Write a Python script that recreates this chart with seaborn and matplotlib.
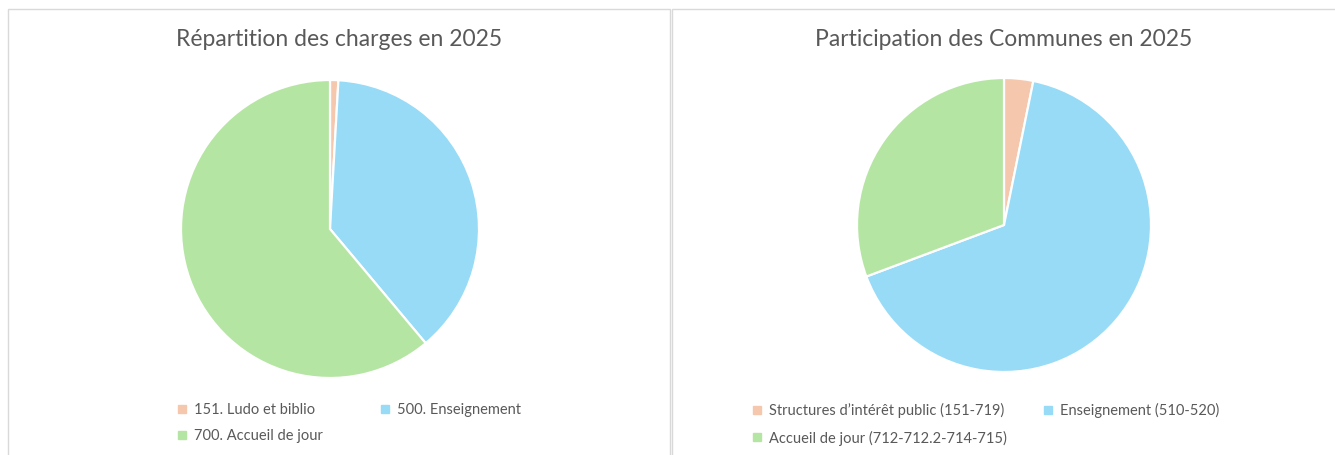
import matplotlib.pyplot as plt
import seaborn as sns
from matplotlib.lines import Line2D
from matplotlib.patches import Rectangle

# data (shares in %)
charges_labels = ['151. Ludo et biblio', '500. Enseignement', '700. Accueil de jour']
charges_values = [0.9, 38.0, 61.1]

communes_labels = ['Structures d\u2019intérêt public (151-719)', 'Enseignement (510-520)',
                   'Accueil de jour (712-712.2-714-715)']
communes_values = [3.2, 66.1, 30.7]

titles = ['Répartition des charges en 2025', 'Participation des Communes en 2025']

sns.set_theme(style='white')
plt.rcParams['font.family'] = ['Lato', 'DejaVu Sans']
colors = sns.color_palette(['#F5C7AD', '#97DBF7', '#B5E5A3'])
text_color = '#595959'

fig = plt.figure(figsize=(13.35, 4.55), dpi=100)
W, H = 1335, 455

# panel frames
for x0, x1 in [(8, 670), (672, 1345)]:
    fig.patches.append(Rectangle((x0 / W, -0.05), (x1 - x0) / W, (H - 9) / H + 0.05,
                                 transform=fig.transFigure, fill=False,
                                 edgecolor='#D9D9D9', linewidth=1.0))


def draw_pie(box, values, labels, title, title_x, legend_x, colspacing):
    ax = fig.add_axes(box)
    ax.pie(values, colors=colors, startangle=90, counterclock=False,
           wedgeprops=dict(edgecolor='white', linewidth=1.6))
    ax.set_xlim(-1.0, 1.0)
    ax.set_ylim(-1.0, 1.0)
    ax.set_aspect('equal')
    fig.text(title_x / W, 1 - 40 / H, title, ha='center', va='center',
             fontsize=16.5, color=text_color)
    handles = [Line2D([], [], marker='s', linestyle='none', markersize=6,
                      markerfacecolor=c, markeredgecolor=c) for c in colors]
    # legend is filled column by column; reorder so it reads row by row
    order = [0, 2, 1]
    fig.legend([handles[i] for i in order], [labels[i] for i in order],
               ncol=2, frameon=False, loc='upper left',
               bbox_to_anchor=(legend_x / W, 1 - 403 / H),
               fontsize=10.5, labelcolor=text_color, handlelength=0.6,
               handletextpad=0.5, columnspacing=colspacing,
               labelspacing=0.85, borderpad=0, borderaxespad=0)
    return ax


draw_pie([181 / W, 77 / H, 298 / W, 298 / H], charges_values, charges_labels,
         titles[0], 339, 178, 3.95)
draw_pie([857 / W, 83 / H, 294 / W, 294 / H], communes_values, communes_labels,
         titles[1], 1004, 753, 2.55)

fig.savefig('out.png', dpi=100, facecolor='white')
